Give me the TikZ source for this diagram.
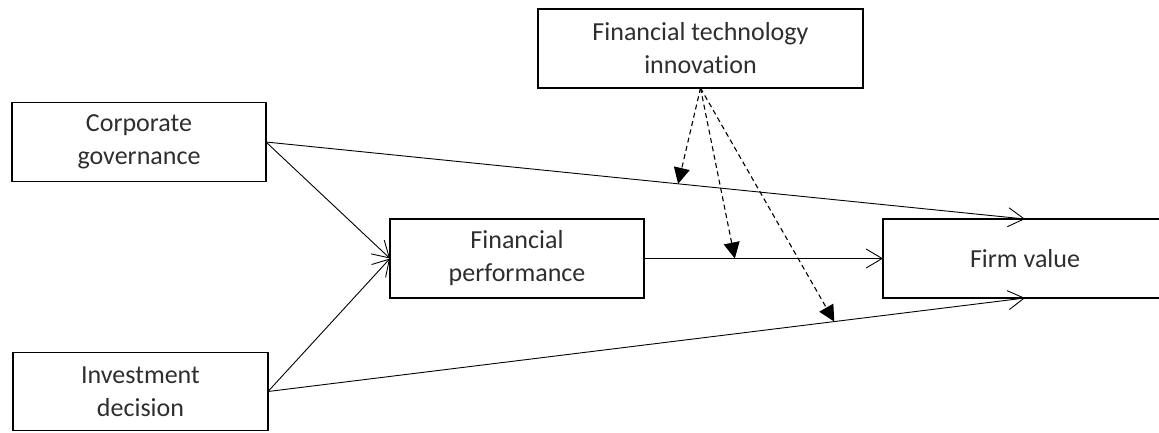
\documentclass[tikz,border=0pt]{standalone}
\usepackage{fontspec}
\setmainfont{Carlito}[Ligatures=NoCommon]
\usetikzlibrary{arrows.meta}
\begin{document}
\begin{tikzpicture}[x=1pt,y=-1pt,
  box/.style={draw, line width=1.6pt, inner sep=0pt, outer sep=0pt,
    minimum height=79pt, align=center, text=black!82,
    font=\fontsize{26}{33}\selectfont},
  link/.style={line width=0.9pt, -{Straight Barb[length=16pt,width=19pt,line width=0.9pt]}},
  moderate/.style={line width=1.1pt, dash pattern=on 5pt off 3.5pt,
    -{Triangle[length=16pt,width=16pt]}}]
\useasboundingbox (0,0) rectangle (1159,432);

% variable boxes
\node[box, minimum width=325pt] (fti) at (700.5,48.5) {Financial technology\\innovation};
\node[box, minimum width=254pt] (cg)  at (139,142)    {Corporate\\governance};
\node[box, minimum width=254pt] (fp)  at (517,258.5)  {Financial\\performance};
\node[box, minimum width=284pt] (fv)  at (1025,258.5) {Firm value};
\node[box, minimum width=255pt, minimum height=78pt] (inv) at (140.5,391.5) {Investment\\decision};

% direct and mediated paths
\draw[link] (cg.east) -- (fv.north) coordinate[pos=0.543] (m1);
\draw[link] (cg.east) -- (fp.west);
\draw[link] (inv.east) -- (fp.west);
\draw[link] (fp.east) -- (fv.west) coordinate[pos=0.38] (m2);
\draw[link] (inv.east) -- (fv.south) coordinate[pos=0.748] (m3);

% moderating effects
\draw[moderate] (fti.south) -- (m1);
\draw[moderate] (fti.south) -- (m2);
\draw[moderate] (fti.south) -- (m3);
\end{tikzpicture}
\end{document}
